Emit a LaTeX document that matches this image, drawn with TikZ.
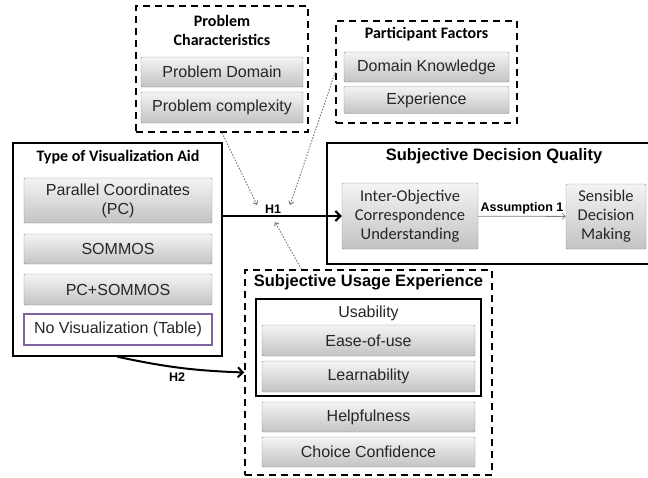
\documentclass[tikz,border=0pt]{standalone}
\usepackage{fontspec}
\setmainfont{Liberation Sans}
\newfontfamily\calfont{Carlito}
\usetikzlibrary{arrows.meta}

\definecolor{boxline}{RGB}{140,140,140}
\definecolor{boxtop}{RGB}{244,244,244}
\definecolor{boxbot}{RGB}{195,195,195}
\definecolor{tablepurple}{RGB}{128,100,162}

\tikzset{
  itembox/.style={draw=boxline, top color=boxtop, bottom color=boxbot, rounded corners=1pt,
    inner sep=0pt, align=center, text=black!85, font=\fontsize{16}{19}\selectfont},
  calitem/.style={itembox, font=\calfont\fontsize{16.5}{19}\selectfont},
  groupbox/.style={draw, line width=1.5pt, dash pattern=on 7pt off 5pt, inner sep=0pt},
  framebox/.style={draw, line width=1.5pt, inner sep=0pt},
  grouptitle/.style={font=\calfont\bfseries\fontsize{16}{19}\selectfont, align=center, inner sep=0pt},
  arialtitle/.style={font=\bfseries\fontsize{16.5}{19}\selectfont, inner sep=0pt},
  hyplabel/.style={font=\bfseries\fontsize{12.5}{14}\selectfont, inner sep=0pt},
  hyparrow/.style={line width=2pt, -{Straight Barb[length=5pt,width=10pt]}},
  influence/.style={draw=black!55, dash pattern=on 1.5pt off 1.5pt, line width=0.9pt, -{Straight Barb[length=3pt,width=5pt]}}
}

\begin{document}
\begin{tikzpicture}[x=1pt,y=-1pt]
\useasboundingbox (0,0) rectangle (648,477);

% problem characteristics
\node[groupbox, minimum width=172pt, minimum height=126pt] (probchar) at (222,69) {};
\node[grouptitle] (probchartitle) at (222,30) {Problem\\Characteristics};
\node[itembox, minimum width=162pt, minimum height=30pt] (pdomain) at (222,72) {Problem Domain};
\node[itembox, minimum width=162pt, minimum height=31pt] (pcomplex) at (222,107.5) {Problem complexity};

% participant factors
\node[groupbox, minimum width=181pt, minimum height=102pt] (partfac) at (426.5,72) {};
\node[grouptitle] (partfactitle) at (426.5,34) {Participant Factors};
\node[itembox, minimum width=165pt, minimum height=30pt] (dknow) at (426.5,67) {Domain Knowledge};
\node[itembox, minimum width=165pt, minimum height=27pt] (exper) at (426.5,100) {Experience};

% type of visualization aid
\node[framebox, minimum width=209pt, minimum height=213pt] (visaid) at (117.5,249.5) {};
\node[grouptitle] (visaidtitle) at (118,157) {Type of Visualization Aid};
\node[itembox, minimum width=188pt, minimum height=45pt] (pc) at (118,200.5) {Parallel Coordinates\\(PC)};
\node[itembox, minimum width=188pt, minimum height=30pt] (sommos) at (118,249) {SOMMOS};
\node[itembox, minimum width=188pt, minimum height=31pt] (pcsommos) at (118,289.5) {PC+SOMMOS};
\node[draw=tablepurple, line width=1.2pt, fill=white, minimum width=188pt, minimum height=31pt,
  inner sep=0pt, text=black!85, font=\fontsize{16}{19}\selectfont] (novis) at (118,329.5) {No Visualization (Table)};

% subjective decision quality
\draw[line width=1.5pt] (648,143) -| (327,264) -- (648,264);
\node[arialtitle] (decqtitle) at (494,156) {Subjective Decision Quality};
\node[calitem, minimum width=136pt, minimum height=66pt] (ioc) at (410,216) {Inter-Objective\\Correspondence\\Understanding};
\node[calitem, minimum width=80pt, minimum height=65pt] (sdm) at (606,216.5) {Sensible\\Decision\\Making};
\draw[draw=gray, line width=0.8pt, -{Straight Barb[length=3pt,width=6pt]}] (ioc) -- node[hyplabel, above=2pt] {Assumption 1} (sdm);

% subjective usage experience
\node[groupbox, minimum width=247pt, minimum height=205pt] (suexp) at (368.5,372.5) {};
\node[arialtitle] (suexptitle) at (368.5,282) {Subjective Usage Experience};
\node[framebox, minimum width=225pt, minimum height=97pt] (usab) at (368.5,347.5) {};
\node[inner sep=0pt, text=black!85, font=\fontsize{16}{19}\selectfont] (usabtitle) at (368.5,313) {Usability};
\node[itembox, minimum width=213pt, minimum height=31pt] (ease) at (368.5,340.5) {Ease-of-use};
\node[itembox, minimum width=213pt, minimum height=31pt] (learn) at (368.5,376.5) {Learnability};
\node[itembox, minimum width=213pt, minimum height=30pt] (help) at (368.5,417) {Helpfulness};
\node[itembox, minimum width=213pt, minimum height=30pt] (choice) at (368.5,452) {Choice Confidence};

% hypotheses
\draw[hyparrow] (visaid.east |- ioc.west) -- (ioc.west);
\node[hyplabel] (h1) at (273,209) {H1};
\coordinate (h1a) at (257,205);
\coordinate (h1b) at (290,205);
\coordinate (h1c) at (275,222);
\draw[influence] (probchar.south) -- (h1a);
\draw[influence] (partfac.west) -- (h1b);
\draw[influence] (suexp.123) -- (h1c);

\draw[hyparrow] (visaid.south) to[bend right=5] (suexp.west);
\node[hyplabel] (h2) at (177,377) {H2};
\end{tikzpicture}
\end{document}
